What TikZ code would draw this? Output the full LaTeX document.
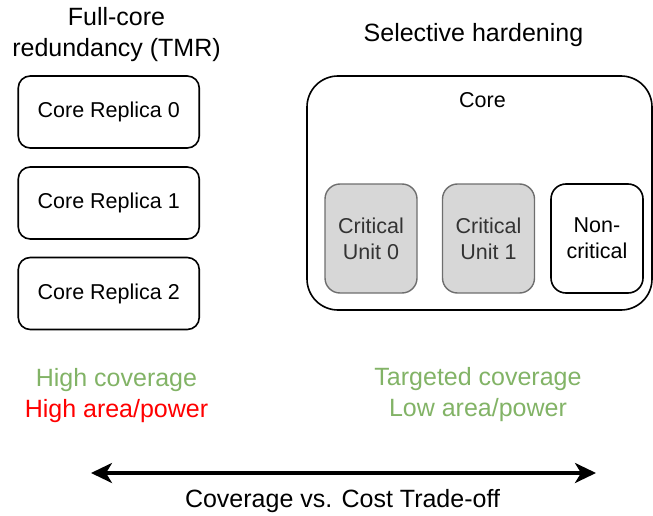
\documentclass[tikz,border=0pt]{standalone}
\usepackage{fontspec}
\setmainfont{Liberation Sans}
\usetikzlibrary{arrows.meta}
\definecolor{okgreen}{HTML}{82B366}
\definecolor{badred}{HTML}{FF0000}
\definecolor{unitfill}{HTML}{D7D7D7}
\definecolor{unitline}{HTML}{6E6E6E}
\definecolor{unittext}{HTML}{333333}
\tikzset{
  heading/.style={inner sep=0pt, align=center, anchor=base,
    font=\fontsize{25}{31}\selectfont},
  boxtext/.style={font=\fontsize{21.5}{26}\selectfont, align=center},
  replica/.style={draw=black, line width=1.6pt, rounded corners=12pt,
    minimum width=181pt, minimum height=72pt, inner sep=0pt, boxtext},
  corebox/.style={draw=black, line width=1.6pt, rounded corners=31pt,
    minimum width=345pt, minimum height=234pt, inner sep=0pt},
  critunit/.style={draw=unitline, fill=unitfill, text=unittext, line width=1.4pt,
    rounded corners=15pt, minimum width=92pt, minimum height=109pt,
    inner sep=0pt, boxtext},
  plainunit/.style={draw=black, line width=1.6pt, rounded corners=15pt,
    minimum width=92pt, minimum height=109pt, inner sep=0pt, boxtext},
  tradeoff/.style={line width=3.3pt,
    {Stealth[length=21pt, width=20pt, inset=6pt]}-{Stealth[length=21pt, width=20pt, inset=6pt]}}
}
\begin{document}
\begin{tikzpicture}[x=1pt, y=-1pt]
\useasboundingbox (0,0) rectangle (653,516);

% left column: triple modular redundancy
\node[heading] (tmrtitle) at (116.5,57) {Full-core\\redundancy (TMR)};
\node[replica] (rep0) at (108.75,112) {Core Replica 0};
\node[replica] (rep1) at (108.75,203) {Core Replica 1};
\node[replica] (rep2) at (108.75,293.5) {Core Replica 2};
\node[heading, text=okgreen] (tmrcov) at (116.5,386) {High coverage};
\node[heading, text=badred] (tmrcost) at (116.5,417) {High area/power};

% right column: selectively hardened core
\node[heading] (seltitle) at (473.5,42) {Selective hardening};
\node[corebox] (core) at (479.5,193) {};
\node[inner sep=0pt, anchor=base, font=\fontsize{21.5}{26}\selectfont] (corelabel) at (482.5,108) {Core};
\node[critunit] (crit0) at (371,238.5) {Critical\\Unit 0};
\node[critunit] (crit1) at (488.5,238.5) {Critical\\Unit 1};
\node[plainunit] (noncrit) at (597,238.5) {Non-\\critical};
\node[heading, text=okgreen] (selcov) at (478,385) {Targeted coverage};
\node[heading, text=okgreen] (selcost) at (478,416) {Low area/power};

% trade-off axis
\coordinate (axisL) at (91,473);
\coordinate (axisR) at (596,473);
\draw[tradeoff] (axisL) -- (axisR);
\node[heading] (axislabel) at (342.5,507) {Coverage vs. Cost Trade-off};
\end{tikzpicture}
\end{document}
